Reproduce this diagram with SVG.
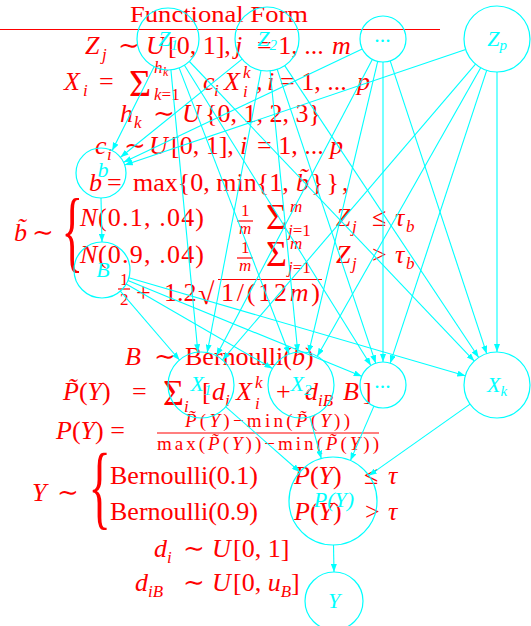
<svg xmlns="http://www.w3.org/2000/svg" width="531" height="626" viewBox="0 0 531 626">
<style>
.m{font-family:"Liberation Serif","DejaVu Serif",serif;fill:#f00;font-size:26px}
.i{font-style:italic}
.s{font-size:17px}
.f{font-size:19px}
.r{stroke:#f00;stroke-width:1.2}
.n circle{fill:none;stroke:#0ff;stroke-width:1.2}
.n text{font-family:"Liberation Serif","DejaVu Serif",serif;font-style:italic;font-size:22px;fill:#0ff;text-anchor:middle}
.n .sub{font-size:15px}
#edges line{stroke:#0ff;stroke-width:1.1;marker-end:url(#ah)}
</style>
<defs>
<marker id="ah" viewBox="0 0 8 6" refX="8" refY="3" markerWidth="8" markerHeight="6" markerUnits="userSpaceOnUse" orient="auto"><path d="M0,0 L8,3 L0,6 z" fill="#0ff"/></marker>
</defs>
<rect width="531" height="626" fill="#fff"/>

<g id="formulas" class="m">
<text x="130" y="21.5" textLength="178" lengthAdjust="spacingAndGlyphs" style="font-size:24px">Functional Form</text>
<line class="r" x1="0" y1="29.5" x2="440" y2="29.5"/>

<text y="54"><tspan x="85" class="i">Z</tspan><tspan x="102" y="60" class="i s">j</tspan><tspan x="118" y="54">∼</tspan><tspan x="146" class="i">U</tspan><tspan x="168">[0, 1],</tspan><tspan x="235" class="i">j</tspan><tspan x="257">= 1, ...</tspan><tspan x="332" class="i">m</tspan></text>

<text y="90"><tspan x="64" class="i">X</tspan><tspan x="83" y="96" class="i s">i</tspan><tspan x="99" y="90">=</tspan><tspan x="129" y="96" style="font-size:38px">Σ</tspan><tspan x="154" y="73" class="i s">h</tspan><tspan x="163" y="76" class="i" style="font-size:12px">k</tspan><tspan x="154" y="100" class="s"><tspan class="i">k</tspan>=1</tspan><tspan x="203" y="90" class="i">c</tspan><tspan x="214" y="96" class="i s">i</tspan><tspan x="224" y="90" class="i">X</tspan><tspan x="243" y="78" class="i s">k</tspan><tspan x="243" y="97" class="i s">i</tspan><tspan x="256" y="90">,</tspan><tspan x="267" class="i">i</tspan><tspan x="280">= 1, ...</tspan><tspan x="357" class="i">p</tspan></text>

<text y="122"><tspan x="120" class="i">h</tspan><tspan x="134" y="128" class="i s">k</tspan><tspan x="153" y="122">∼</tspan><tspan x="182" class="i">U</tspan><tspan x="205">{0, 1, 2, 3}</tspan></text>

<text y="154"><tspan x="95" class="i">c</tspan><tspan x="107" y="160" class="i s">i</tspan><tspan x="124" y="154">∼</tspan><tspan x="149" class="i">U</tspan><tspan x="171">[0, 1],</tspan><tspan x="240" class="i">i</tspan><tspan x="257">= 1, ...</tspan><tspan x="330" class="i">p</tspan></text>

<text y="191"><tspan x="89" class="i">b</tspan><tspan x="107">=</tspan><tspan x="133">max{0, min{1, </tspan><tspan x="296" class="i">b̃</tspan><tspan x="311" style="letter-spacing:3px">}},</tspan></text>

<text y="241"><tspan x="14" class="i">b̃</tspan><tspan x="32">∼</tspan></text>
<text transform="translate(61.5,260.5) scale(0.5,1)" style="font-size:90px">{</text>
<text y="226"><tspan x="80" class="i">N</tspan><tspan x="98" textLength="106" lengthAdjust="spacing">(0.1, .04)</tspan></text>
<text y="263"><tspan x="80" class="i">N</tspan><tspan x="98" textLength="106" lengthAdjust="spacing">(0.9, .04)</tspan></text>
<text class="s"><tspan x="241" y="216">1</tspan><tspan x="239" y="234" class="i">m</tspan><tspan x="241" y="253">1</tspan><tspan x="239" y="271" class="i">m</tspan></text>
<line class="r" x1="237" y1="221" x2="253" y2="221"/>
<line class="r" x1="237" y1="258" x2="253" y2="258"/>
<text style="font-size:36px"><tspan x="266" y="229">Σ</tspan><tspan x="266" y="266">Σ</tspan></text>
<text class="s"><tspan x="290" y="212" class="i">m</tspan><tspan x="288" y="236" class="i">j</tspan><tspan>=1</tspan><tspan x="290" y="249" class="i">m</tspan><tspan x="288" y="273" class="i">j</tspan><tspan>=1</tspan></text>
<text y="226"><tspan x="336" class="i">Z</tspan><tspan x="352" y="232" class="i s">j</tspan><tspan x="372" y="226">≤</tspan><tspan x="395" class="i">τ</tspan><tspan x="406" y="232" class="i s">b</tspan></text>
<text y="263"><tspan x="336" class="i">Z</tspan><tspan x="352" y="269" class="i s">j</tspan><tspan x="372" y="263">&gt;</tspan><tspan x="395" class="i">τ</tspan><tspan x="406" y="269" class="i s">b</tspan></text>

<text class="s"><tspan x="120" y="285">1</tspan><tspan x="120" y="305">2</tspan></text>
<line class="r" x1="118" y1="289" x2="130" y2="289"/>
<text y="301"><tspan x="136">+</tspan><tspan x="164">1.2</tspan></text>
<text x="198" y="304" style="font-size:30px">√</text>
<line class="r" x1="218" y1="279.5" x2="322" y2="279.5"/>
<text x="221" y="301" textLength="99" lengthAdjust="spacing">1/(12<tspan class="i">m</tspan>)</text>

<text y="365"><tspan x="125" class="i">B</tspan><tspan x="154">∼</tspan><tspan x="185">Bernoulli(</tspan><tspan class="i">b</tspan><tspan>)</tspan></text>

<text y="400"><tspan x="63" class="i">P̃</tspan><tspan>(</tspan><tspan class="i">Y</tspan><tspan>)</tspan><tspan x="132">=</tspan><tspan x="163" y="405" style="font-size:36px">Σ</tspan><tspan x="184" y="412" class="i s">i</tspan><tspan x="202" y="400">[</tspan><tspan x="212" class="i">d</tspan><tspan x="225" y="406" class="i s">i</tspan><tspan x="236" y="400" class="i">X</tspan><tspan x="255" y="388" class="i s">k</tspan><tspan x="255" y="409" class="i s">i</tspan><tspan x="276" y="400">+</tspan><tspan x="305" class="i">d</tspan><tspan x="318" y="406" class="i s">iB</tspan><tspan x="343" y="400" class="i">B</tspan><tspan x="363">]</tspan></text>

<text y="439"><tspan x="56" class="i">P</tspan><tspan>(</tspan><tspan class="i">Y</tspan><tspan>) =</tspan></text>
<text class="f" x="185" y="427" textLength="165" lengthAdjust="spacing"><tspan class="i">P̃</tspan>(<tspan class="i">Y</tspan>)−min(<tspan class="i">P̃</tspan>(<tspan class="i">Y</tspan>))</text>
<line class="r" x1="157" y1="433" x2="379" y2="433"/>
<text class="f" x="157" y="450" textLength="222" lengthAdjust="spacing">max(<tspan class="i">P̃</tspan>(<tspan class="i">Y</tspan>))−min(<tspan class="i">P̃</tspan>(<tspan class="i">Y</tspan>))</text>

<text y="501"><tspan x="32" class="i">Y</tspan><tspan x="57">∼</tspan></text>
<text transform="translate(88.5,518) scale(0.5,1)" style="font-size:93px">{</text>
<text y="484"><tspan x="110">Bernoulli(0.1)</tspan><tspan x="294" class="i">P</tspan><tspan>(</tspan><tspan class="i">Y</tspan><tspan>)</tspan><tspan x="364">≤</tspan><tspan x="388" class="i">τ</tspan></text>
<text y="520"><tspan x="110">Bernoulli(0.9)</tspan><tspan x="294" class="i">P</tspan><tspan>(</tspan><tspan class="i">Y</tspan><tspan>)</tspan><tspan x="365">&gt;</tspan><tspan x="388" class="i">τ</tspan></text>

<text y="557"><tspan x="154" class="i">d</tspan><tspan x="167" y="563" class="i s">i</tspan><tspan x="183" y="557">∼</tspan><tspan x="212" class="i">U</tspan><tspan x="233">[0, 1]</tspan></text>
<text y="591"><tspan x="135" class="i">d</tspan><tspan x="148" y="597" class="i s">iB</tspan><tspan x="183" y="591">∼</tspan><tspan x="212" class="i">U</tspan><tspan x="233">[0, </tspan><tspan class="i">u</tspan><tspan class="i s" dy="6">B</tspan><tspan dy="-6">]</tspan></text>
</g>

<g id="edges">
<line x1="154.1" y1="66.7" x2="112.2" y2="150.6"/>
<line x1="242.1" y1="59.1" x2="120.5" y2="157.3"/>
<line x1="362.2" y1="48.9" x2="123.6" y2="162.3"/>
<line x1="465.7" y1="49.6" x2="124.7" y2="165"/>
<line x1="170.9" y1="69.9" x2="197.9" y2="352.2"/>
<line x1="179.1" y1="67.9" x2="289.2" y2="354.2"/>
<line x1="184.4" y1="65.3" x2="370.9" y2="365.5"/>
<line x1="189.4" y1="61.5" x2="474.3" y2="361.1"/>
<line x1="261" y1="70.4" x2="207.2" y2="352.6"/>
<line x1="270.1" y1="70.8" x2="297.8" y2="352.2"/>
<line x1="277.2" y1="69.3" x2="375.7" y2="363.2"/>
<line x1="284.7" y1="65.6" x2="478.7" y2="357.5"/>
<line x1="372.3" y1="59.4" x2="216.4" y2="355.8"/>
<line x1="377.7" y1="61.4" x2="308.6" y2="352.9"/>
<line x1="383" y1="62" x2="383" y2="362"/>
<line x1="390.2" y1="60.8" x2="486.7" y2="353.7"/>
<line x1="475.5" y1="64.1" x2="222.5" y2="359.9"/>
<line x1="480.7" y1="67.7" x2="317.3" y2="356.3"/>
<line x1="486.7" y1="70.3" x2="390.2" y2="363.2"/>
<line x1="497" y1="72" x2="497" y2="352"/>
<line x1="101" y1="198" x2="102" y2="242"/>
<line x1="120.3" y1="291.2" x2="179.5" y2="360"/>
<line x1="126.2" y1="284" x2="272.4" y2="368.5"/>
<line x1="127.9" y1="280.6" x2="361.7" y2="376.3"/>
<line x1="128.9" y1="277.8" x2="465.3" y2="375.8"/>
<line x1="225.8" y1="406.8" x2="299.9" y2="472"/>
<line x1="309.8" y1="416.8" x2="321.3" y2="458.6"/>
<line x1="373.9" y1="406.1" x2="350.4" y2="460.6"/>
<line x1="470.1" y1="404.1" x2="368.9" y2="475.6"/>
<line x1="333.5" y1="545" x2="334" y2="572"/>
</g>

<g id="Z1" class="n"><circle cx="168" cy="39" r="31"/><text x="168" y="46">Z<tspan class="sub" dy="4">1</tspan></text></g>
<g id="Z2" class="n"><circle cx="267" cy="39" r="32"/><text x="267" y="46">Z<tspan class="sub" dy="4">2</tspan></text></g>
<g id="Zdots" class="n"><circle cx="383" cy="39" r="23"/><text x="383" y="42">...</text></g>
<g id="Zp" class="n"><circle cx="497" cy="39" r="33"/><text x="497" y="46">Z<tspan class="sub" dy="4">p</tspan></text></g>
<g id="b" class="n"><circle cx="101" cy="173" r="25"/><text x="103" y="177">b</text></g>
<g id="B" class="n"><circle cx="102" cy="270" r="28"/><text x="103" y="277">B</text></g>
<g id="X1" class="n"><circle cx="201" cy="385" r="33"/><text x="201" y="391">X<tspan class="sub" dy="4">1</tspan></text></g>
<g id="X2" class="n"><circle cx="301" cy="385" r="33"/><text x="301" y="391">X<tspan class="sub" dy="4">2</tspan></text></g>
<g id="Xdots" class="n"><circle cx="383" cy="385" r="23"/><text x="383" y="388">...</text></g>
<g id="Xk" class="n"><circle cx="497" cy="385" r="33"/><text x="497" y="392">X<tspan class="sub" dy="4">k</tspan></text></g>
<g id="PY" class="n"><circle cx="333" cy="501" r="44"/><text x="334" y="507">P(Y)</text></g>
<g id="Y" class="n"><circle cx="334" cy="601" r="29"/><text x="334" y="608">Y</text></g>
</svg>
